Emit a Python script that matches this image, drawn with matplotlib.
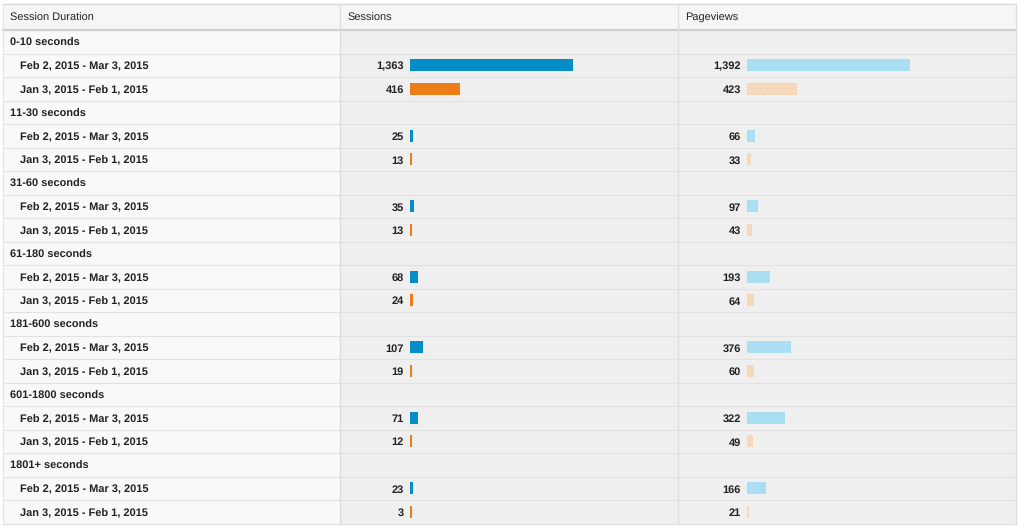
import matplotlib.pyplot as plt

plt.rcParams['font.family'] = ['Liberation Sans', 'DejaVu Sans']
plt.rcParams['hatch.linewidth'] = 0.5
plt.rcParams['text.hinting'] = 'no_hinting'
plt.rcParams['text.hinting_factor'] = 1

groups = ["0-10 seconds", "11-30 seconds", "31-60 seconds", "61-180 seconds",
          "181-600 seconds", "601-1800 seconds", "1801+ seconds"]
periods = ["Feb 2, 2015 - Mar 3, 2015", "Jan 3, 2015 - Feb 1, 2015"]
sessions_cur = [1363, 25, 35, 68, 107, 71, 23]
sessions_prev = [416, 13, 13, 24, 19, 12, 3]
pageviews_cur = [1392, 66, 97, 193, 376, 322, 166]
pageviews_prev = [423, 33, 43, 64, 60, 49, 21]
headers = ["Session Duration", "Sessions", "Pageviews"]

W, H = 1024, 529
fig = plt.figure(figsize=(W / 100, H / 100), dpi=100)
ax = fig.add_axes([0, 0, 1, 1])
ax.set_xlim(0, W)
ax.set_ylim(H, 0)
ax.axis('off')

# table geometry (pixels)
left, c1, c2, right = 3, 340, 678, 1016
top, head_h, row_h = 4, 26, 23.5
n_rows = len(groups) * 3
body_top = top + head_h
bottom = body_top + row_h * n_rows
bar_max = 163
fs = 7.65
dy = 1.3  # text baseline nudge

# backgrounds
ax.add_patch(plt.Rectangle((left, top), right - left, head_h, fc='#f6f6f6', ec='none'))
ax.add_patch(plt.Rectangle((left, body_top), c1 - left, bottom - body_top, fc='#f9f9f9', ec='none'))
ax.add_patch(plt.Rectangle((c1, body_top), right - c1, bottom - body_top, fc='#efefef', ec='none'))

# grid lines
for i in range(1, n_rows):
    y = body_top + i * row_h
    ax.plot([left, right], [y, y], color='#e2e2e2', lw=0.8)
ax.plot([left, right], [top, top], color='#d8d8d8', lw=1)
ax.plot([left, right], [body_top, body_top], color='#cfcfcf', lw=1.6)
ax.plot([left, right], [bottom, bottom], color='#e2e2e2', lw=1)
for x in (c1, c2):
    ax.plot([x, x], [top, bottom], color='#dddddd', lw=1)
ax.plot([left, left], [top, bottom], color='#e4e4e4', lw=0.8)
ax.plot([right, right], [top, bottom], color='#dddddd', lw=1)

# header text
for x, h in zip((left + 7, c1 + 7, c2 + 7), headers):
    ax.text(x, top + head_h / 2 + dy, h, fontsize=fs, va='center', ha='left', color='#222222')

s_max = max(sessions_cur + sessions_prev)
p_max = max(pageviews_cur + pageviews_prev)

def draw_cell(val, vmax, x0, y, color, hatch=None, hatch_color=None):
    ax.text(x0 - 6, y + dy, f"{val:,}", fontsize=fs, fontweight='bold',
            ha='right', va='center', color='#222222')
    w = max(val / vmax * bar_max, 1.5)
    ax.barh(y, w, left=x0, height=12, color=color,
            hatch=hatch, edgecolor=hatch_color if hatch else 'none', linewidth=0)

for g, name in enumerate(groups):
    yg = body_top + (3 * g + 0.5) * row_h
    ax.text(left + 7, yg + dy, name, fontsize=fs, fontweight='bold',
            ha='left', va='center', color='#222222')
    rows = [(sessions_cur[g], pageviews_cur[g], '#058dc7', '#aadff3', None),
            (sessions_prev[g], pageviews_prev[g], '#ed7e17', '#f6d9bb', '...')]
    for k, (sv, pv, sc, pc, htch) in enumerate(rows):
        y = yg + (k + 1) * row_h
        ax.text(left + 17, y + dy, periods[k], fontsize=fs, fontweight='bold',
                ha='left', va='center', color='#222222')
        draw_cell(sv, s_max, 410, y, sc)
        draw_cell(pv, p_max, 747, y, pc, hatch=htch, hatch_color='#f1d2b2')

fig.savefig('out.png', dpi=100, facecolor='white')
